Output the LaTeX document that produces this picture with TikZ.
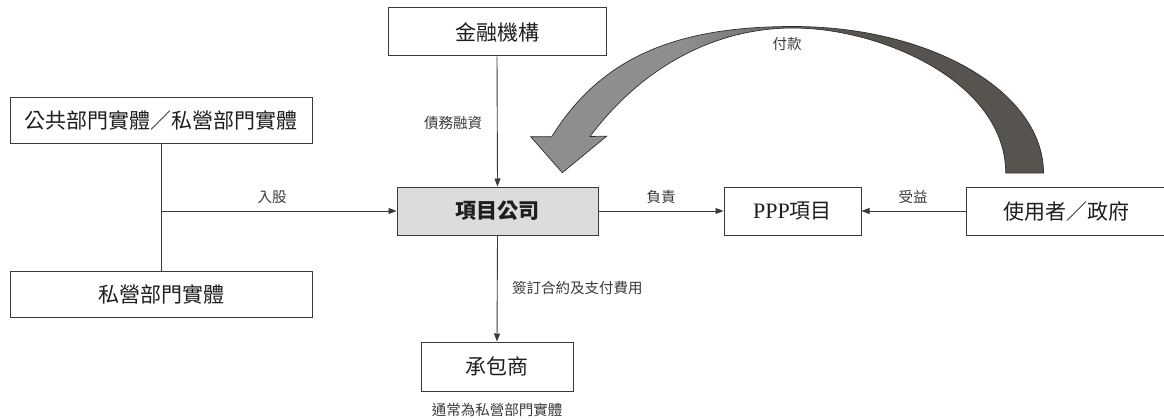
\documentclass[tikz,border=0pt]{standalone}
\usepackage{fontspec}
\setmainfont{Liberation Serif}
\newfontfamily\cjk{Noto Sans CJK TC}
\usetikzlibrary{arrows.meta}
\definecolor{linec}{HTML}{3A3A3A}
\definecolor{txtc}{HTML}{1E1E1E}
\definecolor{labc}{HTML}{3A3A3A}
\definecolor{spvfill}{HTML}{DCDCDC}
\definecolor{payA}{HTML}{8E8E8E}
\definecolor{payB}{HTML}{57534F}
\definecolor{payedge}{HTML}{2E2E2E}
\pgfdeclarehorizontalshading{payshade}{100bp}{color(0bp)=(payA); color(40bp)=(payA); color(56bp)=(payB); color(100bp)=(payB)}
\tikzset{
  box/.style={draw=linec, line width=1pt, fill=white, inner sep=0pt, text=txtc,
    font=\cjk\fontsize{21}{21}\selectfont},
  lab/.style={text=labc, inner sep=0pt, font=\cjk\fontsize{14.5}{14.5}\selectfont},
  conn/.style={draw=linec, line width=0.9pt, -{Triangle[length=8pt,width=6pt]}},
  plain/.style={draw=linec, line width=0.9pt}
}
\begin{document}
\begin{tikzpicture}[x=1pt,y=-1pt]
\useasboundingbox (0,0) rectangle (1164,420);
% boxes
\node[box, minimum width=218pt, minimum height=48pt] (fin) at (497,32) {金融機構};
\node[box, minimum width=302pt, minimum height=46pt] (pub) at (161,120) {公共部門實體／私營部門實體};
\node[box, minimum width=302pt, minimum height=46pt] (priv) at (161,294) {私營部門實體};
\node[box, fill=spvfill, minimum width=201pt, minimum height=48pt, font=\cjk\bfseries\fontsize{21}{21}\selectfont] (spv) at (497.5,211) {項目公司};
\node[box, minimum width=137pt, minimum height=48pt] (ppp) at (792.5,211) {{\rmfamily\fontsize{22}{22}\selectfont PPP}項目};
\node[box, minimum width=200pt, minimum height=48pt] (user) at (1066,211) {使用者／政府};
\node[box, minimum width=152pt, minimum height=49pt] (con) at (497,366.5) {承包商};
% labels
\node[lab] (lequity) at (272,197) {入股};
\node[lab] (ldebt) at (453,123) {債務融資};
\node[lab] (lresp) at (661,197) {負責};
\node[lab] (lbenef) at (913,197) {受益};
\node[lab] (lpay) at (787,44) {付款};
\node[lab, anchor=west] (lcontract) at (512,288) {簽訂合約及支付費用};
\node[lab] (lnote) at (497,410) {通常為私營部門實體};
% connectors
\draw[conn] (fin.south) -- (spv.north);
\draw[plain] (pub.south) -- (priv.north);
\draw[conn] (pub.south |- spv.west) -- (spv.west);
\draw[conn] (spv.south) -- (con.north);
\draw[conn] (spv.east) -- (ppp.west);
\draw[conn] (user.west) -- (ppp.east);
% big curved payment arrow
\path[draw=payedge, line width=0.7pt, shading=payshade]
  (1043.5,173) .. controls (1043.5,93) and (933,26.5) .. (793,26.5)
  .. controls (678,26.5) and (601.8,56) .. (551.7,136.7)
  -- (530.7,136.7) -- (562.3,172.7) -- (606.7,136.2) -- (590,136.5)
  .. controls (640.8,68.6) and (713,28) .. (793,28)
  .. controls (883,28) and (1005.7,83) .. (1005.7,173) -- cycle;
\end{tikzpicture}
\end{document}
